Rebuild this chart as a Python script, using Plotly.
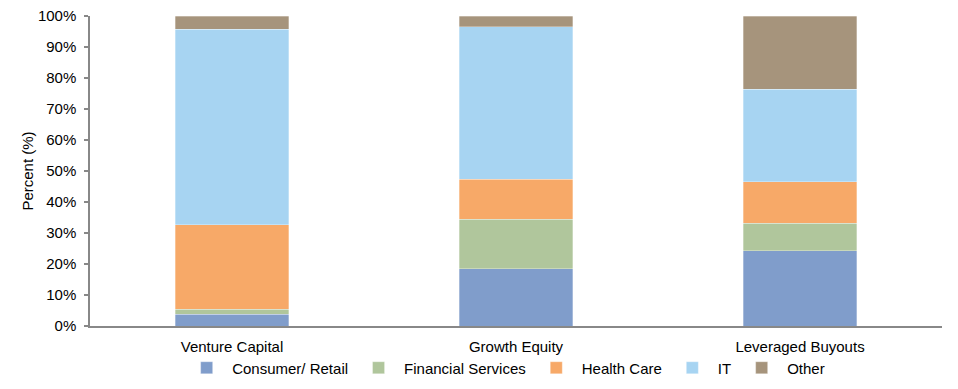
import plotly.graph_objects as go

categories = ["Venture Capital", "Growth Equity", "Leveraged Buyouts"]
consumer_retail = [3.8, 18.4, 24.3]
financial_services = [1.6, 16.0, 8.9]
health_care = [27.2, 13.0, 13.3]
it = [63.1, 49.1, 29.8]
other = [4.3, 3.5, 23.7]

series_names = ["Consumer/ Retail", "Financial Services", "Health Care", "IT", "Other"]
series_values = [consumer_retail, financial_services, health_care, it, other]
series_colors = ["#809DCB", "#B0C69C", "#F7A968", "#A7D4F2", "#A6947C"]

y_ticks = [0, 10, 20, 30, 40, 50, 60, 70, 80, 90, 100]
y_tick_labels = [f"{v}%" for v in y_ticks]

FONT = "Liberation Sans, Arial, sans-serif"

fig = go.Figure()
for name, vals, col in zip(series_names, series_values, series_colors):
    fig.add_trace(go.Bar(
        x=categories, y=vals, name=name,
        marker=dict(color=col, line=dict(color="rgba(255,255,255,0.6)", width=0.5)),
    ))

fig.update_layout(
    width=958, height=389,
    barmode="stack", bargap=0.6,
    paper_bgcolor="white", plot_bgcolor="white",
    margin=dict(l=90, r=16, t=16, b=63, autoexpand=False),
    font=dict(family=FONT, size=15, color="#000000"),
    showlegend=True,
    legend=dict(
        orientation="h", traceorder="normal",
        x=0.107, xanchor="left", xref="paper",
        y=(389 - 368) / 389, yanchor="middle", yref="container",
        font=dict(family=FONT, size=15, color="#000000"),
        itemwidth=41, bgcolor="rgba(0,0,0,0)",
    ),
    xaxis=dict(
        showline=True, linecolor="#888888", linewidth=1.5,
        ticks="outside", ticklen=6, tickcolor="rgba(0,0,0,0)",
        showgrid=False, zeroline=False, automargin=False,
        tickfont=dict(family=FONT, size=15, color="#000000"),
    ),
    yaxis=dict(
        range=[0, 100], tickvals=y_ticks, ticktext=y_tick_labels,
        showline=True, linecolor="#888888", linewidth=1.5,
        ticks="outside", ticklen=4, tickcolor="#888888", tickwidth=1.5,
        ticklabelstandoff=5,
        showgrid=False, zeroline=False, automargin=False,
        tickfont=dict(family=FONT, size=15, color="#000000"),
        title=dict(text="Percent (%)", font=dict(family=FONT, size=15, color="#000000"), standoff=1),
    ),
)

fig.write_html(
    "out.html",
    config={"displayModeBar": False},
    post_script="document.body.style.margin='0';",
)
